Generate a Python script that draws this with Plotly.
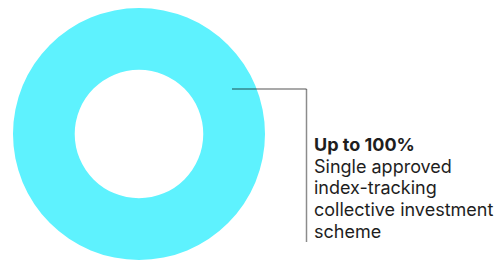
import plotly.graph_objects as go

# Data
labels = ["Single approved index-tracking collective investment scheme"]
values = [100]
headline = "Up to 100%"
desc_lines = ["Single approved", "index-tracking", "collective investment", "scheme"]
slice_colors = ["#5EF2FE"]

W, H = 497, 261

def px(x):
    return x / W

def py(y):
    return 1 - y / H

cx, cy, r = 139, 134, 126

fig = go.Figure(go.Pie(
    labels=labels,
    values=values,
    hole=0.51,
    marker=dict(colors=slice_colors, line=dict(width=0)),
    textinfo="none",
    hoverinfo="label+percent",
    sort=False,
    direction="clockwise",
    showlegend=False,
    domain=dict(x=[px(cx - r), px(cx + r)], y=[py(cy + r), py(cy - r)]),
))

line_col = "rgba(0,0,0,0.45)"
fig.add_shape(type="line", xref="paper", yref="paper",
              x0=px(232), y0=py(89), x1=px(306.5), y1=py(89),
              line=dict(color=line_col, width=1.5))
fig.add_shape(type="line", xref="paper", yref="paper",
              x0=px(306.5), y0=py(89), x1=px(306.5), y1=py(242),
              line=dict(color=line_col, width=1.5))

lines = ["<b>" + headline + "</b>"] + desc_lines
baselines = [150, 172, 193.7, 215.5, 237]
fs = 18
for t, b in zip(lines, baselines):
    fig.add_annotation(
        x=px(312), y=py(b - 6), xref="paper", yref="paper",
        xanchor="left", yanchor="middle", align="left",
        text=t, showarrow=False,
        font=dict(family="Inter", size=fs, color="#1e1e1e"),
    )

fig.update_layout(
    width=W, height=H,
    margin=dict(l=0, r=0, t=0, b=0),
    paper_bgcolor="white", plot_bgcolor="white",
)

fig.write_html("out.html", config={"displayModeBar": False},
               post_script="document.body.style.margin='0';document.body.style.padding='0';")
